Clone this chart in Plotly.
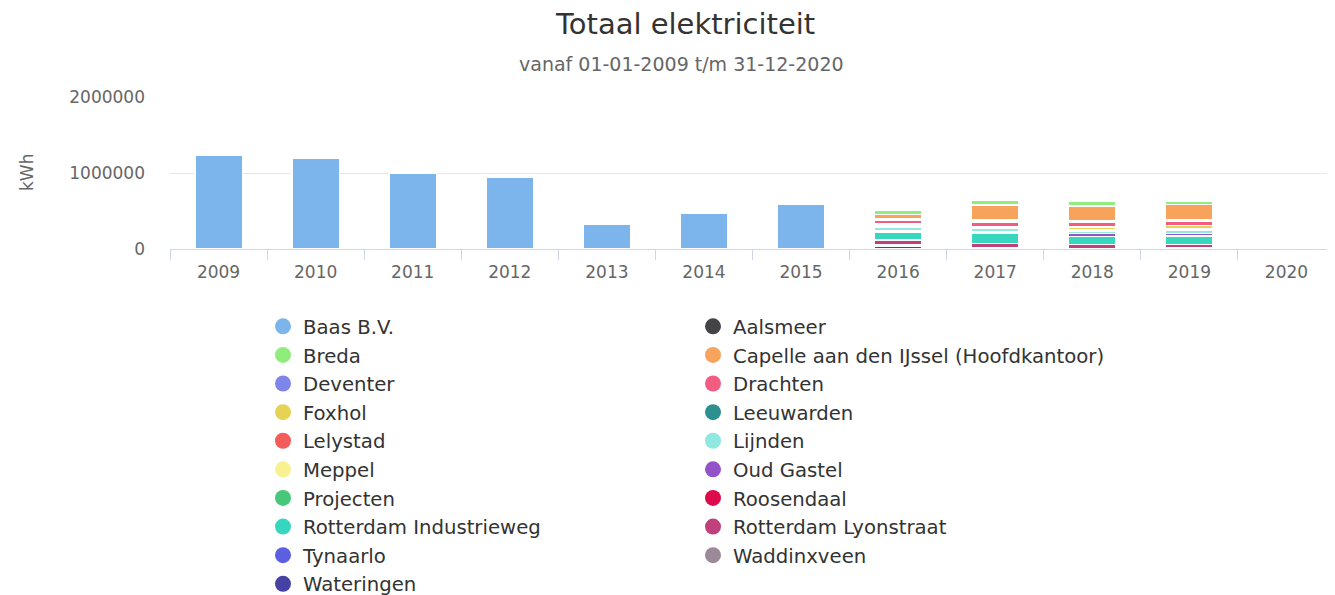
import plotly.graph_objects as go

years = ["2009", "2010", "2011", "2012", "2013", "2014", "2015", "2016", "2017", "2018", "2019", "2020"]

baas        = [1235000, 1190000, 1000000, 940000, 320000, 465000, 595000, 0, 0, 0, 0, 0]
aalsmeer    = [0, 0, 0, 0, 0, 0, 0, 0, 0, 0, 0, 0]
breda       = [0, 0, 0, 0, 0, 0, 0, 59000, 59000, 59000, 42000, 0]
capelle     = [0, 0, 0, 0, 0, 0, 0, 59000, 198000, 194000, 194000, 0]
deventer    = [0, 0, 0, 0, 0, 0, 0, 20000, 24000, 20000, 20000, 0]
drachten    = [0, 0, 0, 0, 0, 0, 0, 46000, 69000, 63000, 63000, 0]
foxhol      = [0, 0, 0, 0, 0, 0, 0, 20000, 16000, 42000, 37000, 0]
leeuwarden  = [0, 0, 0, 0, 0, 0, 0, 18000, 0, 20000, 20000, 0]
lelystad    = [0, 0, 0, 0, 0, 0, 0, 0, 0, 0, 0, 0]
lijnden     = [0, 0, 0, 0, 0, 0, 0, 46000, 46000, 22000, 46000, 0]
meppel      = [0, 0, 0, 0, 0, 0, 0, 0, 0, 0, 0, 0]
oud_gastel  = [0, 0, 0, 0, 0, 0, 0, 0, 0, 42000, 37000, 0]
projecten   = [0, 0, 0, 0, 0, 0, 0, 20000, 20000, 0, 0, 0]
roosendaal  = [0, 0, 0, 0, 0, 0, 0, 0, 0, 0, 0, 0]
rot_ind     = [0, 0, 0, 0, 0, 0, 0, 107000, 132000, 106000, 106000, 0]
rot_lyon    = [0, 0, 0, 0, 0, 0, 0, 63000, 62000, 59000, 42000, 0]
tynaarlo    = [0, 0, 0, 0, 0, 0, 0, 16000, 13000, 0, 20000, 0]
waddinxveen = [0, 0, 0, 0, 0, 0, 0, 0, 0, 0, 0, 0]
wateringen  = [0, 0, 0, 0, 0, 0, 0, 40000, 0, 0, 0, 0]

names = ["Baas B.V.", "Aalsmeer", "Breda", "Capelle aan den IJssel (Hoofdkantoor)",
         "Deventer", "Drachten", "Foxhol", "Leeuwarden", "Lelystad", "Lijnden",
         "Meppel", "Oud Gastel", "Projecten", "Roosendaal", "Rotterdam Industrieweg",
         "Rotterdam Lyonstraat", "Tynaarlo", "Waddinxveen", "Wateringen"]
series = [baas, aalsmeer, breda, capelle, deventer, drachten, foxhol, leeuwarden,
          lelystad, lijnden, meppel, oud_gastel, projecten, roosendaal, rot_ind,
          rot_lyon, tynaarlo, waddinxveen, wateringen]
colors = ["#7cb5ec", "#434348", "#90ed7d", "#f7a35c", "#8085e9", "#f15c80",
          "#e4d354", "#2b908f", "#f45b5b", "#91e8e1", "#f7f28f", "#9452c8",
          "#47c77a", "#dd0a4c", "#36d6bf", "#c0407c", "#5b5fe0", "#9b8997", "#4642a3"]

FONT = "DejaVu Sans"
OFF = 8  # the page body adds an 8px offset to the figure

fig = go.Figure()

# bars: plotly stacks first trace at the bottom, Highcharts puts first series on top
for name, vals, col in reversed(list(zip(names, series, colors))):
    fig.add_trace(go.Bar(
        x=years, y=[v if v else None for v in vals], name=name,
        marker=dict(color=col, line=dict(color="white", width=1.5)),
        legendgroup=name, showlegend=False,
    ))

# legend entries with circular symbols
for name, col in zip(names, colors):
    fig.add_trace(go.Scatter(
        x=[None], y=[None], mode="markers", name=name, legendgroup=name,
        marker=dict(color=col, size=16, symbol="circle"), showlegend=True,
    ))

# plot area on screen: x 170..1335 px, y 97..249 px
def px_x(p):
    return (p - 170) / 1165

def px_y(p):
    return (249 - p) / 152

fig.update_layout(
    width=1335, height=595,
    barmode="stack", bargap=0.51,
    plot_bgcolor="white", paper_bgcolor="white",
    margin=dict(l=170 - OFF, r=OFF, t=97 - OFF, b=595 - 249 + OFF),
    font=dict(family=FONT, color="#666666", size=17),
    showlegend=True,
    legend=dict(
        orientation="h", xref="container", yref="container",
        x=(283 - 20 - OFF) / 1335, xanchor="left",
        y=1 - (327 - 20 - OFF) / 595, yanchor="top",
        entrywidth=385, entrywidthmode="pixels",
        tracegroupgap=0, maxheight=1.0,
        font=dict(family=FONT, size=19.7, color="#333333"),
        bgcolor="rgba(0,0,0,0)",
    ),
    annotations=[
        dict(text="Totaal elektriciteit", xref="paper", yref="paper",
             x=px_x(685), y=px_y(24), xanchor="center", yanchor="middle",
             showarrow=False, font=dict(family=FONT, size=29, color="#333333")),
        dict(text="vanaf 01-01-2009 t/m 31-12-2020", xref="paper", yref="paper",
             x=px_x(681), y=px_y(64), xanchor="center", yanchor="middle",
             showarrow=False, font=dict(family=FONT, size=19, color="#666666")),
        dict(text="kWh", xref="paper", yref="paper",
             x=px_x(27), y=px_y(173), xanchor="center", yanchor="middle",
             textangle=-90, showarrow=False,
             font=dict(family=FONT, size=17, color="#666666")),
    ],
)

fig.update_xaxes(
    type="category", categoryorder="array", categoryarray=years,
    showline=True, linecolor="#ccd6eb", linewidth=1,
    ticks="outside", tickson="boundaries", ticklen=10, tickcolor="#ccd6eb",
    ticklabelstandoff=8,
    showgrid=False, tickfont=dict(family=FONT, size=17, color="#666666"),
    fixedrange=True,
)
fig.update_yaxes(
    range=[0, 2000000], tickvals=[0, 1000000, 2000000],
    ticktext=["0", "1000000", "2000000"],
    showgrid=True, gridcolor="#e6e6e6", gridwidth=1,
    zeroline=False, showline=False, ticks="",
    ticklabelstandoff=24,
    tickfont=dict(family=FONT, size=17, color="#666666"),
    fixedrange=True,
)

fig.write_html("out.html")
